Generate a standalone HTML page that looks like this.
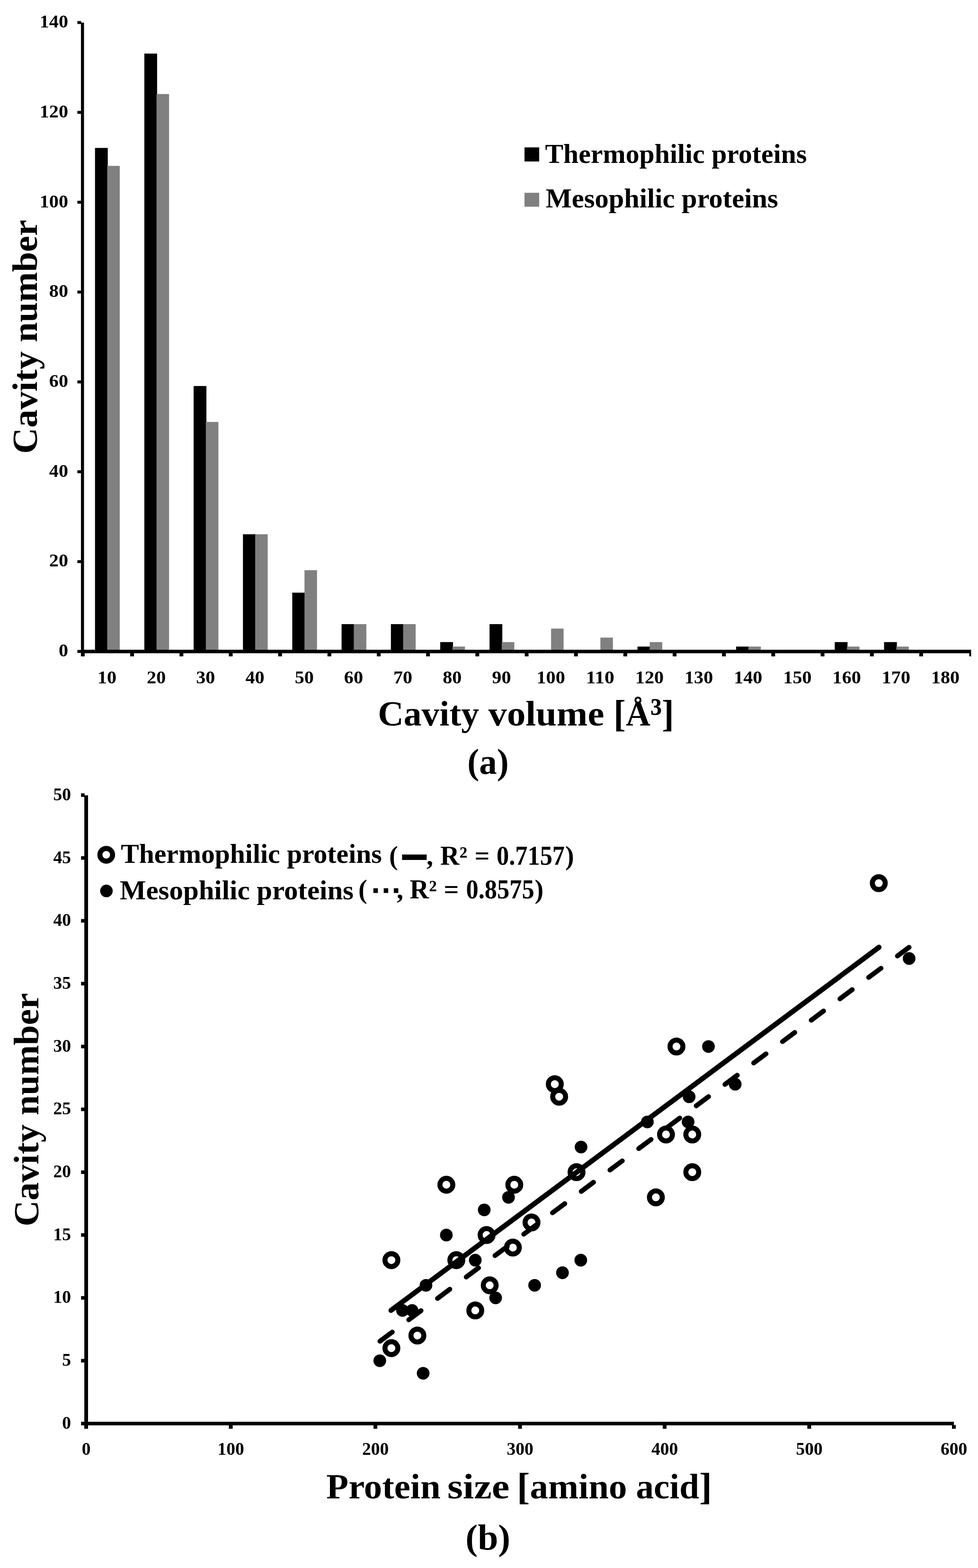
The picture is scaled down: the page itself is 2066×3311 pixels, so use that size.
<!DOCTYPE html>
<html><head><meta charset="utf-8"><title>Cavity figure</title>
<style>html,body{margin:0;padding:0;background:#fff;}svg{display:block;}</style></head>
<body><svg width="2066" height="3311" viewBox="0 0 2066 3311">
<rect width="2066" height="3311" fill="#fff"/>
<g font-family="'Liberation Serif', serif" font-weight="bold" fill="#000">
<rect x="200.69" y="312.37" width="27" height="1063.23" fill="#000"/>
<rect x="226.49" y="350.31" width="26.5" height="1025.29" fill="#808080"/>
<rect x="304.87" y="113.16" width="27" height="1262.44" fill="#000"/>
<rect x="330.67" y="198.54" width="26.5" height="1177.06" fill="#808080"/>
<rect x="409.05" y="815.13" width="27" height="560.47" fill="#000"/>
<rect x="434.85" y="891.01" width="26.5" height="484.59" fill="#808080"/>
<rect x="513.23" y="1128.16" width="27" height="247.44" fill="#000"/>
<rect x="539.03" y="1128.16" width="26.5" height="247.44" fill="#808080"/>
<rect x="617.41" y="1251.48" width="27" height="124.12" fill="#000"/>
<rect x="643.21" y="1204.05" width="26.5" height="171.55" fill="#808080"/>
<rect x="721.59" y="1317.88" width="27" height="57.72" fill="#000"/>
<rect x="747.39" y="1317.88" width="26.5" height="57.72" fill="#808080"/>
<rect x="825.77" y="1317.88" width="27" height="57.72" fill="#000"/>
<rect x="851.57" y="1317.88" width="26.5" height="57.72" fill="#808080"/>
<rect x="929.95" y="1355.83" width="27" height="19.77" fill="#000"/>
<rect x="955.75" y="1365.31" width="26.5" height="10.29" fill="#808080"/>
<rect x="1034.13" y="1317.88" width="27" height="57.72" fill="#000"/>
<rect x="1059.93" y="1355.83" width="26.5" height="19.77" fill="#808080"/>
<rect x="1164.11" y="1327.37" width="26.5" height="48.23" fill="#808080"/>
<rect x="1268.29" y="1346.34" width="26.5" height="29.26" fill="#808080"/>
<rect x="1346.67" y="1365.31" width="27" height="10.29" fill="#000"/>
<rect x="1372.47" y="1355.83" width="26.5" height="19.77" fill="#808080"/>
<rect x="1555.03" y="1365.31" width="27" height="10.29" fill="#000"/>
<rect x="1580.83" y="1365.31" width="26.5" height="10.29" fill="#808080"/>
<rect x="1763.39" y="1355.83" width="27" height="19.77" fill="#000"/>
<rect x="1789.19" y="1365.31" width="26.5" height="10.29" fill="#808080"/>
<rect x="1867.57" y="1355.83" width="27" height="19.77" fill="#000"/>
<rect x="1893.37" y="1365.31" width="26.5" height="10.29" fill="#808080"/>
<rect x="171" y="47.75" width="6.5" height="1331.65" fill="#000"/>
<rect x="171" y="1372" width="1880.4" height="7.4" fill="#000"/>
<rect x="163.5" y="1372.50" width="8" height="6.2" fill="#000"/>
<text x="144" y="1386.20" text-anchor="end" font-size="37.5" textLength="20.06" lengthAdjust="spacingAndGlyphs">0</text>
<rect x="163.5" y="1182.78" width="8" height="6.2" fill="#000"/>
<text x="144" y="1196.48" text-anchor="end" font-size="37.5" textLength="40.12" lengthAdjust="spacingAndGlyphs">20</text>
<rect x="163.5" y="993.06" width="8" height="6.2" fill="#000"/>
<text x="144" y="1006.76" text-anchor="end" font-size="37.5" textLength="40.12" lengthAdjust="spacingAndGlyphs">40</text>
<rect x="163.5" y="803.34" width="8" height="6.2" fill="#000"/>
<text x="144" y="817.04" text-anchor="end" font-size="37.5" textLength="40.12" lengthAdjust="spacingAndGlyphs">60</text>
<rect x="163.5" y="613.62" width="8" height="6.2" fill="#000"/>
<text x="144" y="627.32" text-anchor="end" font-size="37.5" textLength="40.12" lengthAdjust="spacingAndGlyphs">80</text>
<rect x="163.5" y="423.90" width="8" height="6.2" fill="#000"/>
<text x="144" y="437.60" text-anchor="end" font-size="37.5" textLength="60.19" lengthAdjust="spacingAndGlyphs">100</text>
<rect x="163.5" y="234.18" width="8" height="6.2" fill="#000"/>
<text x="144" y="247.88" text-anchor="end" font-size="37.5" textLength="60.19" lengthAdjust="spacingAndGlyphs">120</text>
<rect x="163.5" y="44.46" width="8" height="6.2" fill="#000"/>
<text x="144" y="58.16" text-anchor="end" font-size="37.5" textLength="60.19" lengthAdjust="spacingAndGlyphs">140</text>
<rect x="170.90" y="1379" width="8" height="7" fill="#000"/>
<rect x="275.08" y="1379" width="8" height="7" fill="#000"/>
<rect x="379.26" y="1379" width="8" height="7" fill="#000"/>
<rect x="483.44" y="1379" width="8" height="7" fill="#000"/>
<rect x="587.62" y="1379" width="8" height="7" fill="#000"/>
<rect x="691.80" y="1379" width="8" height="7" fill="#000"/>
<rect x="795.98" y="1379" width="8" height="7" fill="#000"/>
<rect x="900.16" y="1379" width="8" height="7" fill="#000"/>
<rect x="1004.34" y="1379" width="8" height="7" fill="#000"/>
<rect x="1108.52" y="1379" width="8" height="7" fill="#000"/>
<rect x="1212.70" y="1379" width="8" height="7" fill="#000"/>
<rect x="1316.88" y="1379" width="8" height="7" fill="#000"/>
<rect x="1421.06" y="1379" width="8" height="7" fill="#000"/>
<rect x="1525.24" y="1379" width="8" height="7" fill="#000"/>
<rect x="1629.42" y="1379" width="8" height="7" fill="#000"/>
<rect x="1733.60" y="1379" width="8" height="7" fill="#000"/>
<rect x="1837.78" y="1379" width="8" height="7" fill="#000"/>
<rect x="1941.96" y="1379" width="8" height="7" fill="#000"/>
<rect x="2047.6" y="1379" width="3.8" height="7" fill="#000"/>
<text x="225.99" y="1443" text-anchor="middle" font-size="37.5" textLength="40.12" lengthAdjust="spacingAndGlyphs">10</text>
<text x="330.17" y="1443" text-anchor="middle" font-size="37.5" textLength="40.12" lengthAdjust="spacingAndGlyphs">20</text>
<text x="434.35" y="1443" text-anchor="middle" font-size="37.5" textLength="40.12" lengthAdjust="spacingAndGlyphs">30</text>
<text x="538.53" y="1443" text-anchor="middle" font-size="37.5" textLength="40.12" lengthAdjust="spacingAndGlyphs">40</text>
<text x="642.71" y="1443" text-anchor="middle" font-size="37.5" textLength="40.12" lengthAdjust="spacingAndGlyphs">50</text>
<text x="746.89" y="1443" text-anchor="middle" font-size="37.5" textLength="40.12" lengthAdjust="spacingAndGlyphs">60</text>
<text x="851.07" y="1443" text-anchor="middle" font-size="37.5" textLength="40.12" lengthAdjust="spacingAndGlyphs">70</text>
<text x="955.25" y="1443" text-anchor="middle" font-size="37.5" textLength="40.12" lengthAdjust="spacingAndGlyphs">80</text>
<text x="1059.43" y="1443" text-anchor="middle" font-size="37.5" textLength="40.12" lengthAdjust="spacingAndGlyphs">90</text>
<text x="1163.61" y="1443" text-anchor="middle" font-size="37.5" textLength="60.19" lengthAdjust="spacingAndGlyphs">100</text>
<text x="1267.79" y="1443" text-anchor="middle" font-size="37.5" textLength="60.19" lengthAdjust="spacingAndGlyphs">110</text>
<text x="1371.97" y="1443" text-anchor="middle" font-size="37.5" textLength="60.19" lengthAdjust="spacingAndGlyphs">120</text>
<text x="1476.15" y="1443" text-anchor="middle" font-size="37.5" textLength="60.19" lengthAdjust="spacingAndGlyphs">130</text>
<text x="1580.33" y="1443" text-anchor="middle" font-size="37.5" textLength="60.19" lengthAdjust="spacingAndGlyphs">140</text>
<text x="1684.51" y="1443" text-anchor="middle" font-size="37.5" textLength="60.19" lengthAdjust="spacingAndGlyphs">150</text>
<text x="1788.69" y="1443" text-anchor="middle" font-size="37.5" textLength="60.19" lengthAdjust="spacingAndGlyphs">160</text>
<text x="1892.87" y="1443" text-anchor="middle" font-size="37.5" textLength="60.19" lengthAdjust="spacingAndGlyphs">170</text>
<text x="1997.05" y="1443" text-anchor="middle" font-size="37.5" textLength="60.19" lengthAdjust="spacingAndGlyphs">180</text>
<rect x="1108" y="311.25" width="31" height="29.75" fill="#000"/>
<rect x="1108" y="407.1" width="31" height="29.4" fill="#808080"/>
<text x="1151.5" y="343.75" font-size="56" textLength="553" lengthAdjust="spacingAndGlyphs">Thermophilic proteins</text>
<text x="1152.7" y="438.1" font-size="56" textLength="491" lengthAdjust="spacingAndGlyphs">Mesophilic proteins</text>
<text transform="translate(78,958.15) rotate(-90)" font-size="75" textLength="494" lengthAdjust="spacingAndGlyphs">Cavity number</text>
<text x="798.34" y="1531.5" font-size="75" textLength="213.74" lengthAdjust="spacingAndGlyphs">Cavity</text>
<text x="1031.59" y="1531.5" font-size="75" textLength="244.74" lengthAdjust="spacingAndGlyphs">volume</text>
<text x="1296.1" y="1531.5" font-size="75" textLength="127.8" lengthAdjust="spacingAndGlyphs"><tspan font-size="81" dy="2.5">[</tspan><tspan dy="-2.5">Å</tspan><tspan font-size="84">³</tspan><tspan font-size="81" dy="2.5">]</tspan></text>
<text x="987.3" y="1634" font-size="76" textLength="87.3" lengthAdjust="spacingAndGlyphs">(a)</text>
<rect x="178.1" y="1679.4" width="7.9" height="1330.35" fill="#000"/>
<rect x="178.1" y="3002.25" width="1837" height="7.5" fill="#000"/>
<rect x="171.25" y="3002.25" width="7.5" height="7.5" fill="#000"/>
<text x="150" y="3016.80" text-anchor="end" font-size="37.5">0</text>
<rect x="171.25" y="2869.55" width="7.5" height="7.5" fill="#000"/>
<text x="150" y="2884.10" text-anchor="end" font-size="37.5">5</text>
<rect x="171.25" y="2736.85" width="7.5" height="7.5" fill="#000"/>
<text x="150" y="2751.40" text-anchor="end" font-size="37.5">10</text>
<rect x="171.25" y="2604.15" width="7.5" height="7.5" fill="#000"/>
<text x="150" y="2618.70" text-anchor="end" font-size="37.5">15</text>
<rect x="171.25" y="2471.45" width="7.5" height="7.5" fill="#000"/>
<text x="150" y="2486.00" text-anchor="end" font-size="37.5">20</text>
<rect x="171.25" y="2338.75" width="7.5" height="7.5" fill="#000"/>
<text x="150" y="2353.30" text-anchor="end" font-size="37.5">25</text>
<rect x="171.25" y="2206.05" width="7.5" height="7.5" fill="#000"/>
<text x="150" y="2220.60" text-anchor="end" font-size="37.5">30</text>
<rect x="171.25" y="2073.35" width="7.5" height="7.5" fill="#000"/>
<text x="150" y="2087.90" text-anchor="end" font-size="37.5">35</text>
<rect x="171.25" y="1940.65" width="7.5" height="7.5" fill="#000"/>
<text x="150" y="1955.20" text-anchor="end" font-size="37.5">40</text>
<rect x="171.25" y="1807.95" width="7.5" height="7.5" fill="#000"/>
<text x="150" y="1822.50" text-anchor="end" font-size="37.5">45</text>
<rect x="171.25" y="1675.25" width="7.5" height="7.5" fill="#000"/>
<text x="150" y="1689.80" text-anchor="end" font-size="37.5">50</text>
<rect x="178.00" y="3009" width="8" height="8" fill="#000"/>
<text x="182.00" y="3072" text-anchor="middle" font-size="37.5">0</text>
<rect x="483.50" y="3009" width="8" height="8" fill="#000"/>
<text x="487.50" y="3072" text-anchor="middle" font-size="37.5">100</text>
<rect x="789.00" y="3009" width="8" height="8" fill="#000"/>
<text x="793.00" y="3072" text-anchor="middle" font-size="37.5">200</text>
<rect x="1094.50" y="3009" width="8" height="8" fill="#000"/>
<text x="1098.50" y="3072" text-anchor="middle" font-size="37.5">300</text>
<rect x="1400.00" y="3009" width="8" height="8" fill="#000"/>
<text x="1404.00" y="3072" text-anchor="middle" font-size="37.5">400</text>
<rect x="1705.50" y="3009" width="8" height="8" fill="#000"/>
<text x="1709.50" y="3072" text-anchor="middle" font-size="37.5">500</text>
<rect x="2011.00" y="3009" width="8" height="8" fill="#000"/>
<text x="2015.00" y="3072" text-anchor="middle" font-size="37.5">600</text>
<line x1="826.0" y1="2767.0" x2="1856.9" y2="2000.2" stroke="#000" stroke-width="10.8" stroke-linecap="round"/>
<line x1="801.7" y1="2832.9" x2="1920.4" y2="2000.4" stroke="#000" stroke-width="10.2" stroke-linecap="round" stroke-dasharray="32.5 43.2" stroke-dashoffset="-1.2"/>
<circle cx="1856.4" cy="1864.78" r="13.6" fill="none" stroke="#000" stroke-width="10.6"/>
<circle cx="1429" cy="2209.80" r="13.6" fill="none" stroke="#000" stroke-width="10.6"/>
<circle cx="1172" cy="2289.42" r="13.6" fill="none" stroke="#000" stroke-width="10.6"/>
<circle cx="1181.2" cy="2315.96" r="13.6" fill="none" stroke="#000" stroke-width="10.6"/>
<circle cx="1406.9" cy="2395.58" r="13.6" fill="none" stroke="#000" stroke-width="10.6"/>
<circle cx="1462.4" cy="2395.58" r="13.6" fill="none" stroke="#000" stroke-width="10.6"/>
<circle cx="1462.4" cy="2475.20" r="13.6" fill="none" stroke="#000" stroke-width="10.6"/>
<circle cx="1217.9" cy="2475.20" r="13.6" fill="none" stroke="#000" stroke-width="10.6"/>
<circle cx="1385.5" cy="2528.28" r="13.6" fill="none" stroke="#000" stroke-width="10.6"/>
<circle cx="942.9" cy="2501.74" r="13.6" fill="none" stroke="#000" stroke-width="10.6"/>
<circle cx="1086.4" cy="2501.74" r="13.6" fill="none" stroke="#000" stroke-width="10.6"/>
<circle cx="1122.8" cy="2581.36" r="13.6" fill="none" stroke="#000" stroke-width="10.6"/>
<circle cx="1027.9" cy="2607.90" r="13.6" fill="none" stroke="#000" stroke-width="10.6"/>
<circle cx="1083.4" cy="2634.44" r="13.6" fill="none" stroke="#000" stroke-width="10.6"/>
<circle cx="826.8" cy="2660.98" r="13.6" fill="none" stroke="#000" stroke-width="10.6"/>
<circle cx="964" cy="2660.98" r="13.6" fill="none" stroke="#000" stroke-width="10.6"/>
<circle cx="1034.5" cy="2714.06" r="13.6" fill="none" stroke="#000" stroke-width="10.6"/>
<circle cx="1004" cy="2767.14" r="13.6" fill="none" stroke="#000" stroke-width="10.6"/>
<circle cx="881.7" cy="2820.22" r="13.6" fill="none" stroke="#000" stroke-width="10.6"/>
<circle cx="826.8" cy="2846.76" r="13.6" fill="none" stroke="#000" stroke-width="10.6"/>
<circle cx="1920.5" cy="2024.02" r="13.4" fill="#000"/>
<circle cx="1496.6" cy="2209.80" r="13.4" fill="#000"/>
<circle cx="1553.1" cy="2289.42" r="13.4" fill="#000"/>
<circle cx="1455.8" cy="2315.96" r="13.4" fill="#000"/>
<circle cx="1367.6" cy="2369.04" r="13.4" fill="#000"/>
<circle cx="1453.6" cy="2369.04" r="13.4" fill="#000"/>
<circle cx="1227.5" cy="2422.12" r="13.4" fill="#000"/>
<circle cx="1074.2" cy="2528.28" r="13.4" fill="#000"/>
<circle cx="1022.9" cy="2554.82" r="13.4" fill="#000"/>
<circle cx="942.9" cy="2607.90" r="13.4" fill="#000"/>
<circle cx="1004" cy="2660.98" r="13.4" fill="#000"/>
<circle cx="1226.9" cy="2660.98" r="13.4" fill="#000"/>
<circle cx="1188.2" cy="2687.52" r="13.4" fill="#000"/>
<circle cx="899.9" cy="2714.06" r="13.4" fill="#000"/>
<circle cx="1129.4" cy="2714.06" r="13.4" fill="#000"/>
<circle cx="1047" cy="2740.60" r="13.4" fill="#000"/>
<circle cx="850.3" cy="2767.14" r="13.4" fill="#000"/>
<circle cx="870.5" cy="2767.14" r="13.4" fill="#000"/>
<circle cx="802.3" cy="2873.30" r="13.4" fill="#000"/>
<circle cx="893.9" cy="2899.84" r="13.4" fill="#000"/>
<circle cx="224.4" cy="1805" r="13.4" fill="none" stroke="#000" stroke-width="10.6"/>
<circle cx="224.8" cy="1881.3" r="13.3" fill="#000"/>
<text x="255.2" y="1821.9" font-size="56" textLength="551.5" lengthAdjust="spacingAndGlyphs">Thermophilic proteins</text>
<text x="821.9" y="1826.2" font-size="56">(</text>
<rect x="849.4" y="1804.4" width="51.9" height="11.5" fill="#000"/>
<text x="901" y="1826.2" font-size="56">,</text>
<text x="930" y="1826.2" font-size="56">R²</text>
<text x="1002.5" y="1826.2" font-size="56">=</text>
<text x="1049" y="1826.2" font-size="56" textLength="144" lengthAdjust="spacingAndGlyphs">0.7157</text>
<text x="1194" y="1826.2" font-size="56">)</text>
<text x="253" y="1899" font-size="56" textLength="494" lengthAdjust="spacingAndGlyphs">Mesophilic proteins</text>
<text x="757" y="1897.3" font-size="56">(</text>
<rect x="788.75" y="1875.6" width="9.5" height="10" fill="#000"/>
<rect x="810.6" y="1875.6" width="9.5" height="10" fill="#000"/>
<rect x="831.9" y="1875.6" width="9.5" height="10" fill="#000"/>
<text x="838" y="1897.3" font-size="56">,</text>
<text x="865.6" y="1897.3" font-size="56">R²</text>
<text x="937.5" y="1897.3" font-size="56">=</text>
<text x="984.6" y="1897.3" font-size="56" textLength="144" lengthAdjust="spacingAndGlyphs">0.8575</text>
<text x="1129.5" y="1897.3" font-size="56">)</text>
<text transform="translate(80.7,2589.84) rotate(-90)" font-size="75" textLength="492.86" lengthAdjust="spacingAndGlyphs">Cavity number</text>
<text x="689.39" y="3163.6" font-size="75" textLength="241.27" lengthAdjust="spacingAndGlyphs">Protein</text>
<text x="944.91" y="3163.6" font-size="75" textLength="131.34" lengthAdjust="spacingAndGlyphs">size</text>
<text x="1091.78" y="3163.6" font-size="75" textLength="232.72" lengthAdjust="spacingAndGlyphs"><tspan font-size="81" dy="2.5">[</tspan><tspan dy="-2.5">amino</tspan></text>
<text x="1343.46" y="3163.6" font-size="75" textLength="160.55" lengthAdjust="spacingAndGlyphs">acid<tspan font-size="81" dy="2.5">]</tspan></text>
<text x="983.3" y="3272" font-size="76" textLength="94.8" lengthAdjust="spacingAndGlyphs">(b)</text>
</g></svg></body></html>
